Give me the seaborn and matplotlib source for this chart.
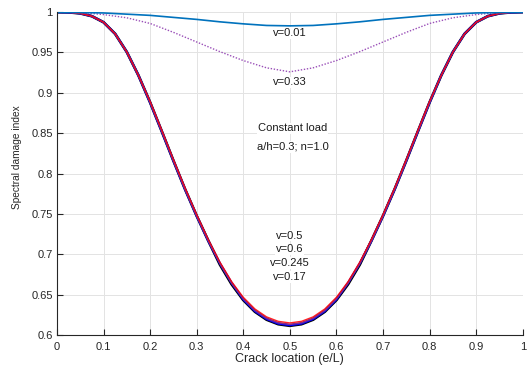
import pandas as pd
import numpy as np
import matplotlib
matplotlib.use("Agg")
import matplotlib.pyplot as plt
import seaborn as sns

sns.set_style("ticks")
plt.rcParams["font.family"] = ["Liberation Sans", "DejaVu Sans"]

# crack location, fine grid for the deep curves
x_fine = [
    0.0, 0.025, 0.05, 0.075, 0.1, 0.125, 0.15, 0.175, 0.2, 0.225,
    0.25, 0.275, 0.3, 0.325, 0.35, 0.375, 0.4, 0.425, 0.45, 0.475,
    0.5, 0.525, 0.55, 0.575, 0.6, 0.625, 0.65, 0.675, 0.7, 0.725,
    0.75, 0.775, 0.8, 0.825, 0.85, 0.875, 0.9, 0.925, 0.95, 0.975, 1.0
]
# coarse grid for the shallow curves
x_coarse = [
    0.0, 0.05, 0.1, 0.15, 0.2, 0.25, 0.3, 0.35, 0.4, 0.45, 0.5,
    0.55, 0.6, 0.65, 0.7, 0.75, 0.8, 0.85, 0.9, 0.95, 1.0
]

y_v001 = [
    1.0, 0.9995, 0.999, 0.9975, 0.996, 0.9935, 0.991, 0.988, 0.9855, 0.9835, 0.983,
    0.9835, 0.9855, 0.988, 0.991, 0.9935, 0.996, 0.9975, 0.999, 0.9995, 1.0
]
y_v033 = [
    1.0, 0.9995, 0.997, 0.993, 0.986, 0.975, 0.963, 0.951, 0.940, 0.931, 0.926,
    0.931, 0.940, 0.951, 0.963, 0.975, 0.986, 0.993, 0.997, 0.9995, 1.0
]
y_v05 = [
    1.0, 0.9998, 0.9985, 0.995, 0.9875, 0.9731, 0.9506, 0.9216, 0.8895, 0.8538,
    0.8175, 0.7822, 0.7491, 0.7182, 0.6901, 0.6660, 0.6466, 0.6321, 0.6223, 0.6168,
    0.6148, 0.6168, 0.6223, 0.6321, 0.6466, 0.6660, 0.6901, 0.7182, 0.7491, 0.7822,
    0.8175, 0.8538, 0.8895, 0.9216, 0.9506, 0.9731, 0.9875, 0.995, 0.9985, 0.9998, 1.0
]
y_v06 = [
    1.0, 0.9998, 0.9985, 0.995, 0.9875, 0.9731, 0.9506, 0.9216, 0.8882, 0.8524,
    0.816, 0.7806, 0.7475, 0.7166, 0.6885, 0.6644, 0.6441, 0.6295, 0.6197, 0.6140,
    0.6120, 0.6140, 0.6197, 0.6295, 0.6441, 0.6644, 0.6885, 0.7166, 0.7475, 0.7806,
    0.816, 0.8524, 0.8882, 0.9216, 0.9506, 0.9731, 0.9875, 0.995, 0.9985, 0.9998, 1.0
]
y_v0245 = [
    1.0, 0.9998, 0.9985, 0.995, 0.9875, 0.9731, 0.9506, 0.9216, 0.8882, 0.8524,
    0.816, 0.7806, 0.7475, 0.7166, 0.6870, 0.6628, 0.6432, 0.6287, 0.6189, 0.6133,
    0.6113, 0.6133, 0.6189, 0.6287, 0.6432, 0.6628, 0.6870, 0.7166, 0.7475, 0.7806,
    0.816, 0.8524, 0.8882, 0.9216, 0.9506, 0.9731, 0.9875, 0.995, 0.9985, 0.9998, 1.0
]
y_v017 = [
    1.0, 0.9998, 0.9985, 0.995, 0.9875, 0.9731, 0.9506, 0.9216, 0.8882, 0.8524,
    0.816, 0.7806, 0.7475, 0.7166, 0.6885, 0.6644, 0.6449, 0.6304, 0.6206, 0.6150,
    0.6130, 0.6150, 0.6206, 0.6304, 0.6449, 0.6644, 0.6885, 0.7166, 0.7475, 0.7806,
    0.816, 0.8524, 0.8882, 0.9216, 0.9506, 0.9731, 0.9875, 0.995, 0.9985, 0.9998, 1.0
]

x_ticks = [0, 0.1, 0.2, 0.3, 0.4, 0.5, 0.6, 0.7, 0.8, 0.9, 1]
x_tick_labels = ["0", "0.1", "0.2", "0.3", "0.4", "0.5", "0.6", "0.7", "0.8", "0.9", "1"]
y_ticks = [0.6, 0.65, 0.7, 0.75, 0.8, 0.85, 0.9, 0.95, 1.0]
y_tick_labels = ["0.6", "0.65", "0.7", "0.75", "0.8", "0.85", "0.9", "0.95", "1"]

fig = plt.figure(figsize=(5.27, 3.68), dpi=100)
ax = fig.add_axes([0.108, 0.09, 0.884, 0.877])

ax.grid(True, color="#e3e3e3", linewidth=0.7)
ax.set_axisbelow(True)

# deep curves (nearly coincident)
sns.lineplot(x=x_fine, y=y_v0245, ax=ax, color="black", linewidth=2.0)
sns.lineplot(x=x_fine, y=y_v06, ax=ax, color="#0000ff", linewidth=1.6)
sns.lineplot(x=x_fine, y=y_v017, ax=ax, color="#7e2f8e", linewidth=1.2)
sns.lineplot(x=x_fine, y=y_v05, ax=ax, color="#ff0000", linewidth=1.0, alpha=0.85)

# shallow curves
sns.lineplot(x=x_coarse, y=y_v033, ax=ax, color="#9a4fb8", linewidth=1.0,
             linestyle=(0, (1, 1.2)))
sns.lineplot(x=x_coarse, y=y_v001, ax=ax, color="#0072bd", linewidth=1.2)

box = dict(facecolor="white", edgecolor="none", pad=0.6)
txt = dict(ha="center", va="center", fontsize=8, color="#1a1a1a", bbox=box)
ax.text(0.5, 0.974, "v=0.01", **txt)
ax.text(0.5, 0.913, "v=0.33", **txt)
ax.text(0.506, 0.856, "Constant load", **txt)
ax.text(0.506, 0.833, "a/h=0.3; n=1.0", **txt)
ax.text(0.5, 0.723, "v=0.5", **txt)
ax.text(0.5, 0.706, "v=0.6", **txt)
ax.text(0.5, 0.689, "v=0.245", **txt)
ax.text(0.5, 0.672, "v=0.17", **txt)

ax.set_xlim(0, 1)
ax.set_ylim(0.6, 1.0)
ax.set_xticks(x_ticks)
ax.set_xticklabels(x_tick_labels)
ax.set_yticks(y_ticks)
ax.set_yticklabels(y_tick_labels)
ax.tick_params(direction="in", length=4, width=0.8, labelsize=8,
               colors="#262626")
ax.tick_params(axis="x", pad=5)
ax.tick_params(axis="y", pad=3)
ax.set_xlabel("Crack location (e/L)", fontsize=9, color="#262626", labelpad=0.5)
ax.set_ylabel("Spectral damage index", fontsize=7.3, color="#262626")
ax.yaxis.set_label_coords(-0.076, 0.55)

for side in ["top", "right"]:
    ax.spines[side].set_visible(False)
for side in ["left", "bottom"]:
    ax.spines[side].set_color("#262626")
    ax.spines[side].set_linewidth(0.8)

fig.savefig("out.png", dpi=100)
plt.close()
